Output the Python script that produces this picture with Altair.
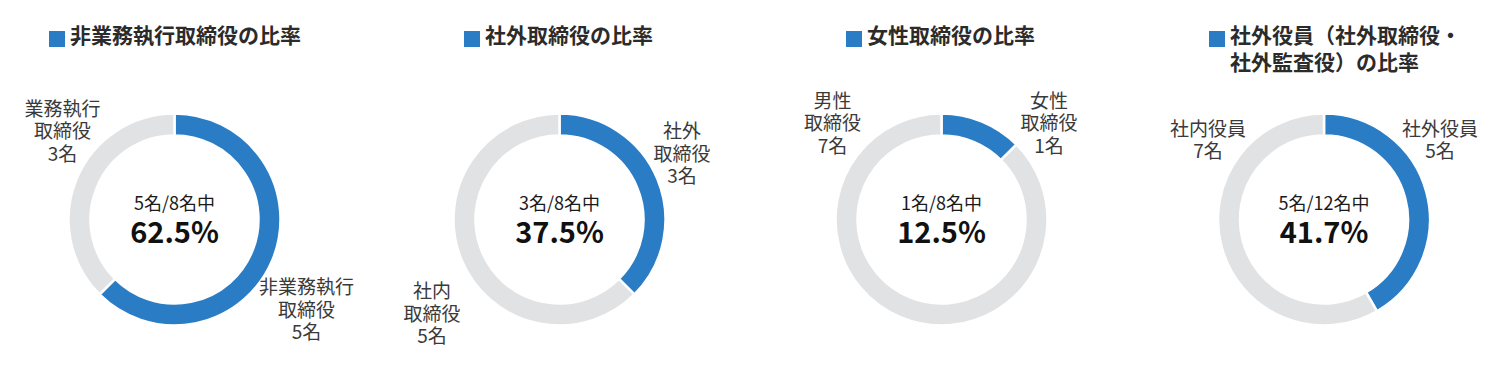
import altair as alt
import pandas as pd

# ---- data ----
titles = [
    "非業務執行取締役の比率",
    "社外取締役の比率",
    "女性取締役の比率",
    "社外役員（社外取締役・\n社外監査役）の比率",
]
highlight_names = ["非業務執行\n取締役", "社外\n取締役", "女性\n取締役", "社外役員"]
other_names = ["業務執行\n取締役", "社内\n取締役", "男性\n取締役", "社内役員"]
highlight_counts = [5, 3, 1, 5]
other_counts = [3, 5, 7, 7]

# ---- style / layout ----
FONT = "Noto Sans CJK JP"
BLUE = "#2a7dc5"
GRAY = "#e1e2e4"
LABEL_COLOR = "#3a3a3a"
W, H = 1484, 374
CENTRES_X = [166.5, 551.5, 933.5, 1316]
CY = 211.5
OUTER, INNER = 106, 84
LH = 22.5
title_start = [-104.5, -74.5, -74.5, -94]
TITLE_Y = 29
# (highlight label offset, other label offset) relative to donut centre (block centre)
label_offsets = [
    ((132, 91), (-112, -87.5)),
    ((122.5, -65), (-127.5, 95)),
    ((107.5, -95.5), (-109, -95.5)),
    ((116, -78.5), (-116, -78.5)),
]


def text_layer(text, x, y, size, weight="normal", color=LABEL_COLOR,
               align="center", line_height=LH, centre_block=True):
    n = text.count("\n")
    y0 = y - n * line_height / 2 if centre_block else y
    return alt.Chart(pd.DataFrame({"t": [text]})).mark_text(
        font=FONT, fontSize=size, fontWeight=weight, color=color,
        align=align, baseline="middle", lineBreak="\n", lineHeight=line_height,
    ).encode(x=alt.value(x), y=alt.value(y0), text="t:N")


layers = []
for i in range(4):
    CX = CENTRES_X[i]
    h, o = highlight_counts[i], other_counts[i]
    total = h + o
    seg = pd.DataFrame({"seg": ["hi", "lo"], "v": [h, o], "k": [0, 1]})
    arc = alt.Chart(seg).mark_arc(
        outerRadius=OUTER, innerRadius=INNER, stroke="white", strokeWidth=2.5
    ).encode(
        theta=alt.Theta("v:Q", stack=True),
        order=alt.Order("k:Q"),
        color=alt.Color("seg:N", scale=alt.Scale(domain=["hi", "lo"], range=[BLUE, GRAY]), legend=None),
        x=alt.value(CX), y=alt.value(CY),
    )
    ts = CX + title_start[i]
    sq = alt.Chart(pd.DataFrame({"a": [0]})).mark_rect(color=BLUE).encode(
        x=alt.value(ts - 21), x2=alt.value(ts - 5),
        y=alt.value(TITLE_Y + 2 - 8), y2=alt.value(TITLE_Y + 2 + 8),
    )
    title = text_layer(titles[i], ts, TITLE_Y, 21, weight="bold",
                       color="#2b2b2b", align="left", line_height=26.5,
                       centre_block=False)
    (hdx, hdy), (odx, ody) = label_offsets[i]
    hl = text_layer(f"{highlight_names[i]}\n{h}名", CX + hdx, CY + hdy, 19)
    ol = text_layer(f"{other_names[i]}\n{o}名", CX + odx, CY + ody, 19)
    c1 = text_layer(f"{h}名/{total}名中", CX, CY - 15, 18, color="#1a1a1a")
    c2 = text_layer(f"{h / total * 100:.1f}%", CX, CY + 14, 29, weight="bold", color="#111111")
    layers += [arc, sq, title, hl, ol, c1, c2]

chart = alt.layer(*layers).resolve_scale(theta="independent").properties(
    width=W, height=H, padding=0, background="white"
).configure_view(strokeWidth=0)

chart.save("out.html", embed_options={"renderer": "svg", "actions": False})
